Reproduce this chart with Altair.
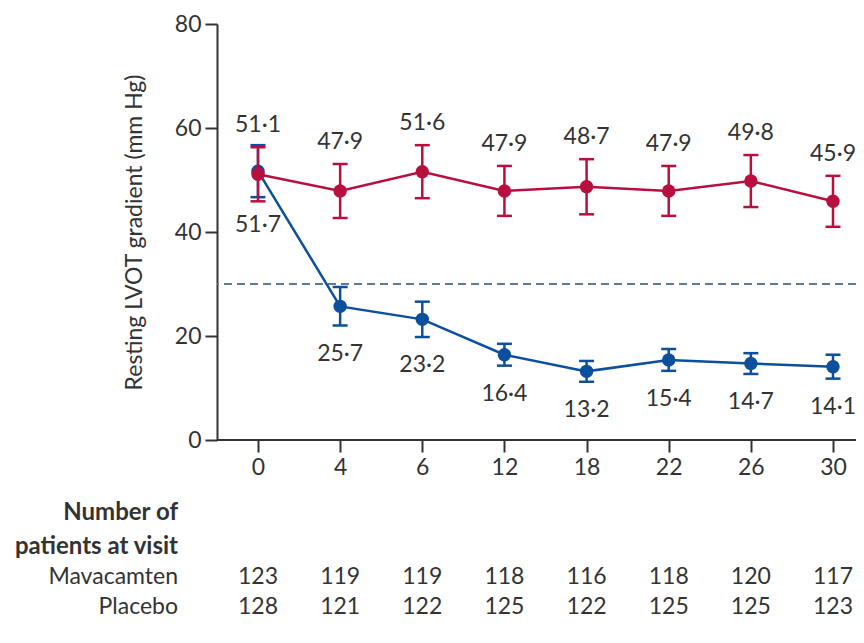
import altair as alt
import pandas as pd

weeks = ["0", "4", "6", "12", "18", "22", "26", "30"]
mava = [51.7, 25.7, 23.2, 16.4, 13.2, 15.4, 14.7, 14.1]
mava_err = [5.0, 3.7, 3.4, 2.1, 2.0, 2.1, 2.0, 2.3]
plac = [51.1, 47.9, 51.6, 47.9, 48.7, 47.9, 49.8, 45.9]
plac_err = [5.2, 5.2, 5.1, 4.8, 5.3, 4.8, 5.0, 4.9]
n_mava = [123, 119, 119, 118, 116, 118, 120, 117]
n_plac = [128, 121, 122, 125, 122, 125, 125, 123]
threshold = 30

RED = "#b8103e"
BLUE = "#0c4f9c"
INK = "#333333"
FONT = "Lato"
W = 639

rows = []
for w, v, e in zip(weeks, mava, mava_err):
    rows.append({"week": w, "series": "Mavacamten", "v": v, "lo": v - e, "hi": v + e,
                 "lab": f"{v:.1f}".replace(".", "·")})
for w, v, e in zip(weeks, plac, plac_err):
    rows.append({"week": w, "series": "Placebo", "v": v, "lo": v - e, "hi": v + e,
                 "lab": f"{v:.1f}".replace(".", "·")})
df = pd.DataFrame(rows)

xs = alt.Scale(type="point", domain=weeks, range=[41, 616], padding=0)
ys = alt.Scale(domain=[0, 80], nice=False, zero=True)

xaxis = alt.Axis(title=None, labelAngle=0, tickSize=12, tickWidth=2, domain=False,
                 tickColor=INK, labelColor=INK, labelFontSize=23, labelFont=FONT,
                 labelPadding=4, grid=False)
yaxis = alt.Axis(title="Resting LVOT gradient (mm Hg)", values=[0, 20, 40, 60, 80],
                 tickSize=12, tickWidth=2, domainWidth=2, domainColor=INK,
                 tickColor=INK, labelColor=INK, labelFontSize=23, labelFont=FONT,
                 labelPadding=4, grid=False, titleFont=FONT, titleFontSize=23,
                 titleFontWeight="normal", titleColor=INK, titlePadding=28)

xenc = alt.X("week:O", scale=xs, sort=weeks, axis=xaxis)
xenc_n = alt.X("week:O", scale=xs, sort=weeks)

base = alt.Chart(df)

rule30 = alt.Chart(pd.DataFrame({"t": [threshold]})).mark_rule(
    color="#5d7b98", strokeDash=[8, 5], strokeWidth=2
).encode(y=alt.Y("t:Q", scale=ys, axis=yaxis))

xline = alt.Chart(pd.DataFrame({"t": [0]})).mark_rule(
    color=INK, strokeWidth=2
).encode(y=alt.Y("t:Q", scale=ys), x=alt.value(0), x2=alt.value(W))


def series_layers(name, color, with_axis=False):
    b = base.transform_filter(alt.datum.series == name)
    xe = xenc if with_axis else xenc_n
    line = b.mark_line(color=color, strokeWidth=2.5).encode(
        x=xe, y=alt.Y("v:Q", scale=ys))
    err = b.mark_rule(color=color, strokeWidth=2.5).encode(
        x=xenc_n, y=alt.Y("lo:Q", scale=ys), y2="hi:Q")
    cap_lo = b.mark_tick(color=color, size=15, thickness=2.5, opacity=1).encode(
        x=xenc_n, y=alt.Y("lo:Q", scale=ys))
    cap_hi = b.mark_tick(color=color, size=15, thickness=2.5, opacity=1).encode(
        x=xenc_n, y=alt.Y("hi:Q", scale=ys))
    pts = b.mark_circle(color=color, size=180, opacity=1).encode(
        x=xenc_n, y=alt.Y("v:Q", scale=ys))
    return [line, err, cap_lo, cap_hi, pts]


mava_layers = series_layers("Mavacamten", BLUE, with_axis=True)
plac_layers = series_layers("Placebo", RED)

lab_plac = base.transform_filter(alt.datum.series == "Placebo").mark_text(
    font=FONT, fontSize=23, color=INK, baseline="middle", dy=-22
).encode(x=xenc_n, y=alt.Y("hi:Q", scale=ys), text="lab:N")
lab_mava = base.transform_filter(alt.datum.series == "Mavacamten").mark_text(
    font=FONT, fontSize=23, color=INK, baseline="middle", dy=28
).encode(x=xenc_n, y=alt.Y("lo:Q", scale=ys), text="lab:N")

# Table of patient numbers
tab = pd.DataFrame({"week": weeks * 2,
                    "n": n_mava + n_plac,
                    "row": ["Mavacamten"] * len(weeks) + ["Placebo"] * len(weeks)})
tab_m = alt.Chart(tab).transform_filter(alt.datum.row == "Mavacamten").mark_text(
    font=FONT, fontSize=23, color=INK, baseline="middle"
).encode(x=xenc_n, y=alt.value(553), text="n:Q")
tab_p = alt.Chart(tab).transform_filter(alt.datum.row == "Placebo").mark_text(
    font=FONT, fontSize=23, color=INK, baseline="middle"
).encode(x=xenc_n, y=alt.value(583), text="n:Q")

row_labels = pd.DataFrame({
    "txt": ["Number of", "patients at visit", "Mavacamten", "Placebo"],
    "ypos": [489, 523, 553, 583],
})
hdr = alt.Chart(row_labels.iloc[:2]).mark_text(
    font=FONT, fontSize=24, fontWeight="bold", color=INK, align="right", baseline="middle"
).encode(x=alt.value(-39), y=alt.Y("ypos:Q", scale=None), text="txt:N")
rlab = alt.Chart(row_labels.iloc[2:]).mark_text(
    font=FONT, fontSize=23, color=INK, align="right", baseline="middle"
).encode(x=alt.value(-39), y=alt.Y("ypos:Q", scale=None), text="txt:N")

chart = alt.layer(
    rule30, xline, *mava_layers, *plac_layers, lab_plac, lab_mava, tab_m, tab_p, hdr, rlab
).properties(
    width=W, height=416,
    autosize=alt.AutoSizeParams(type="none"),
    padding={"left": 209, "top": 16, "right": 0, "bottom": 190},
).configure_view(stroke=None)

chart.save("out.html", embed_options={"renderer": "svg", "actions": False})
